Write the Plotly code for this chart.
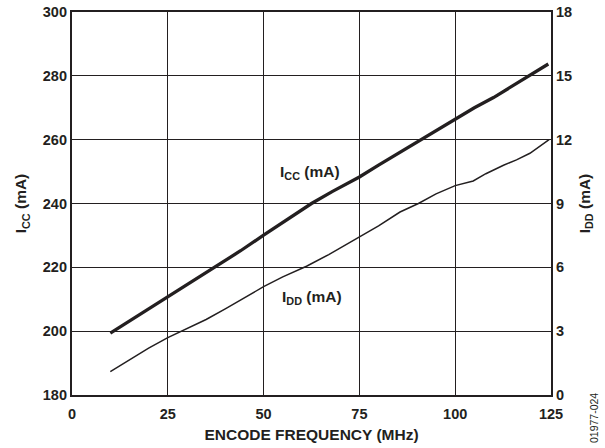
import plotly.graph_objects as go

icc_freq = [10, 15, 20, 25, 30, 38.2, 44, 50, 56, 62.5, 68, 75, 80, 86, 91.2, 96, 100, 105, 110, 115, 119.5, 124.3]
icc_ma = [199.4, 203.2, 207.0, 210.7, 214.6, 220.6, 225.2, 230.1, 235.0, 240.0, 243.8, 248.3, 252.0, 256.3, 260.0, 263.3, 266.3, 270.0, 273.2, 276.8, 280.0, 283.7]

idd_freq = [10, 15, 20, 25, 28.6, 35, 40, 48.2, 50, 55, 61.2, 67, 75, 80, 85.6, 90.4, 95, 100, 104.7, 108, 112.6, 116, 119.5, 124.5]
idd_ma = [1.1, 1.65, 2.2, 2.7, 3.0, 3.55, 4.05, 4.9, 5.09, 5.55, 6.05, 6.6, 7.42, 7.95, 8.6, 9.0, 9.45, 9.84, 10.06, 10.4, 10.8, 11.05, 11.36, 12.0]

x_ticks = [0, 25, 50, 75, 100, 125]
left_ticks = [180, 200, 220, 240, 260, 280, 300]
right_ticks = [0, 3, 6, 9, 12, 15, 18]

FONT = "Liberation Sans, Arial, sans-serif"
INK = "#231f20"

ML, MR, MT, MB = 72, 54, 12, 53
W, H = 605, 448
PW, PH = W - ML - MR, H - MT - MB


def bold(vals):
    return ["<b>%s</b>" % v for v in vals]


fig = go.Figure()
fig.add_trace(go.Scatter(x=icc_freq, y=icc_ma, mode="lines",
                         line=dict(color=INK, width=3.3), yaxis="y", showlegend=False))
fig.add_trace(go.Scatter(x=idd_freq, y=idd_ma, mode="lines",
                         line=dict(color=INK, width=1.5), yaxis="y2", showlegend=False))

tickfont = dict(family=FONT, size=14.5, color=INK)
titlefont = dict(family=FONT, size=15.5, color=INK)

fig.update_layout(
    width=W, height=H,
    margin=dict(l=ML, r=MR, t=MT, b=MB),
    paper_bgcolor="white", plot_bgcolor="white",
    font=dict(family=FONT, color=INK),
    xaxis=dict(range=[0, 125], tickvals=x_ticks, ticktext=bold(x_ticks), ticks="", showgrid=True,
               gridcolor=INK, gridwidth=1, showline=True, linecolor=INK,
               linewidth=2.2, mirror=True, zeroline=False, tickfont=tickfont, automargin=False,
               ticklabelstandoff=4,
               title=dict(text="<b>ENCODE FREQUENCY (MHz)</b>", font=titlefont, standoff=9)),
    yaxis=dict(range=[180, 300], tickvals=left_ticks, ticktext=bold(left_ticks), ticks="", showgrid=True,
               gridcolor=INK, gridwidth=1, showline=True, linecolor=INK,
               linewidth=2.2, zeroline=False, tickfont=tickfont, automargin=False,
               title=dict(text="<b>I<sub>CC</sub> (mA)</b>", font=titlefont, standoff=12)),
    yaxis2=dict(range=[0, 18], tickvals=right_ticks, ticktext=bold(right_ticks), ticks="", showgrid=False,
                overlaying="y", side="right", showline=True, linecolor=INK,
                linewidth=2.2, zeroline=False, tickfont=tickfont, automargin=False,
                title=dict(text="<b>I<sub>DD</sub> (mA)</b>", font=titlefont, standoff=8)),
    annotations=[
        dict(x=62, y=249.6, xref="x", yref="y", text="<b>I<sub>CC</sub> (mA)</b>", showarrow=False,
             font=dict(family=FONT, size=15.5, color=INK)),
        dict(x=62.6, y=4.56, xref="x", yref="y2", text="<b>I<sub>DD</sub> (mA)</b>", showarrow=False,
             font=dict(family=FONT, size=15.5, color=INK)),
        dict(x=(594 - ML) / PW, y=(H - MB - 418) / PH, xref="paper", yref="paper", text="01977-024",
             showarrow=False, textangle=-90, xanchor="center", yanchor="middle",
             font=dict(family=FONT, size=10.5, color=INK)),
    ],
)

fig.write_html("out.html", config={"displayModeBar": False})

# remove the default page margin so the figure sits at the window's top-left corner
with open("out.html", "r", encoding="utf-8") as f:
    html = f.read()
html = html.replace("<body>", '<body style="margin:0;padding:0;">', 1)
with open("out.html", "w", encoding="utf-8") as f:
    f.write(html)
